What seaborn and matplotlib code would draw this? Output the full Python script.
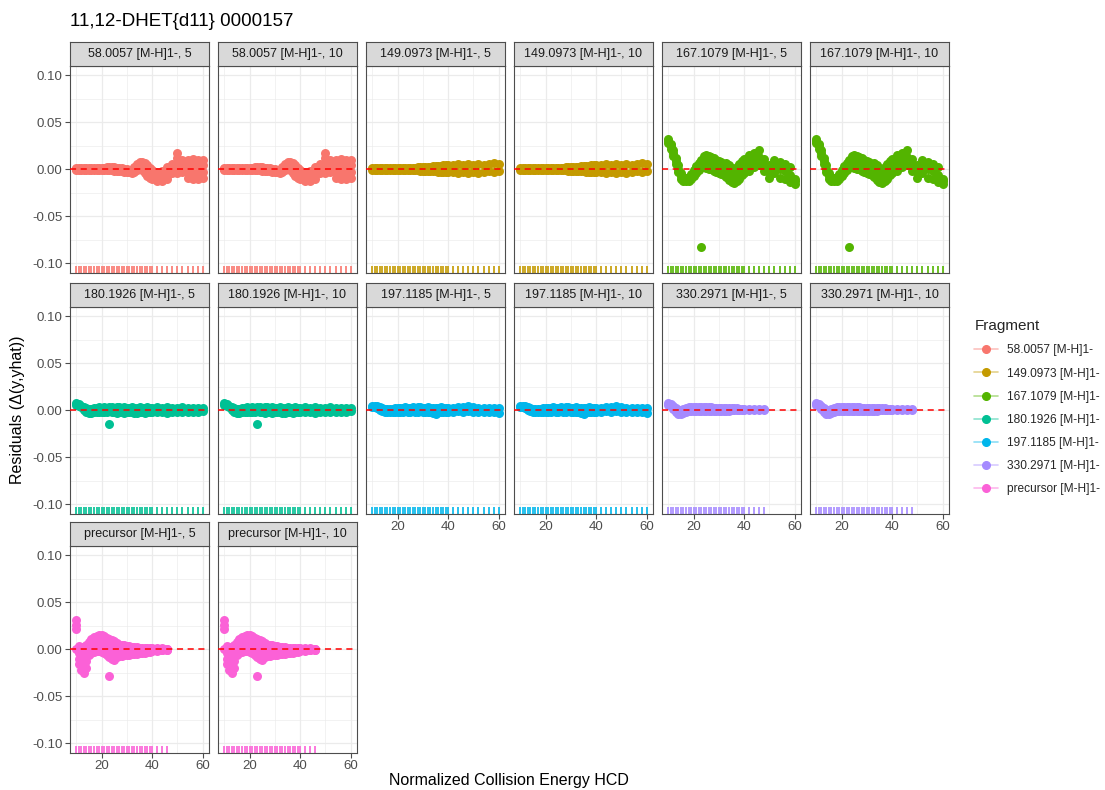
import numpy as np
import pandas as pd
import matplotlib
matplotlib.use("Agg")
import matplotlib.pyplot as plt
import seaborn as sns
from matplotlib.lines import Line2D
from matplotlib.ticker import FixedLocator
from matplotlib.colors import to_rgba

# ---------------- data ----------------
TITLE = "11,12-DHET{d11} 0000157"
X_LABEL = "Normalized Collision Energy HCD"
Y_LABEL = "Residuals (\u0394(y,yhat))"
LEGEND_TITLE = "Fragment"

FRAGMENTS = ["58.0057 [M-H]1-", "149.0973 [M-H]1-", "167.1079 [M-H]1-",
             "180.1926 [M-H]1-", "197.1185 [M-H]1-", "330.2971 [M-H]1-",
             "precursor [M-H]1-"]
COLORS = ["#F8766D", "#C49A00", "#53B400", "#00C094", "#00B6EB", "#A58AFF", "#FB61D7"]
SETTINGS = ["5", "10"]

X_TICKS = [20, 40, 60]
X_TICK_LABELS = ["20", "40", "60"]
Y_TICKS = [0.10, 0.05, 0.00, -0.05, -0.10]
Y_TICK_LABELS = ["0.10", "0.05", "0.00", "-0.05", "-0.10"]

ENERGY_FULL = [10, 11, 12, 13, 14, 15, 16, 17, 18, 19, 20,
               21, 22, 23, 24, 25, 26, 27, 28, 29, 30,
               31, 32, 33, 34, 35, 36, 37, 38, 39, 40,
               42, 44, 46, 48, 50, 52, 54, 56, 58, 60]
ENERGY_330 = [10, 11, 12, 13, 14, 15, 16, 17, 18, 19, 20,
              21, 22, 23, 24, 25, 26, 27, 28, 29, 30,
              31, 32, 33, 34, 35, 36, 37, 38, 39, 40,
              42, 44, 46, 48]
ENERGY_PREC = [10, 11, 12, 13, 14, 15, 16, 17, 18, 19, 20,
               21, 22, 23, 24, 25, 26, 27, 28, 29, 30,
               31, 32, 33, 34, 35, 36, 37, 38, 39, 40,
               42, 44, 46]

RES_58_A = [0.001, 0.001, 0.001, 0.001, 0.001, 0.001, 0.001, 0.001, 0.001, 0.001, 0.001,
            0.001, 0.002, 0.002, 0.002, 0.002, 0.001, 0.001, 0.001, 0.000, 0.000,
            -0.001, -0.001, 0.002, 0.006, 0.008, 0.008, 0.007, 0.004, 0.001, -0.001,
            -0.003, -0.002, 0.002, 0.006, 0.017, 0.010, 0.010, 0.011, 0.010, 0.010]
RES_58_B = [-0.001, -0.001, -0.001, -0.001, -0.001, -0.001, -0.001, -0.001, -0.001, -0.001, -0.001,
            -0.001, -0.001, -0.001, -0.001, -0.002, -0.002, -0.002, -0.002, -0.003, -0.003,
            -0.003, -0.004, -0.003, -0.001, 0.000, -0.001, -0.004, -0.007, -0.009, -0.010,
            -0.012, -0.013, -0.010, -0.004, -0.004, -0.003, -0.009, -0.010, -0.010, -0.009]
RES_58_C = [0.000, 0.000, 0.000, 0.000, 0.000, 0.000, 0.000, 0.000, 0.000, 0.000, 0.000,
            0.000, 0.000, 0.000, 0.001, 0.000, 0.000, -0.001, -0.001, -0.001, -0.002,
            -0.002, -0.002, 0.000, 0.003, 0.004, 0.004, 0.002, -0.001, -0.004, -0.005,
            -0.007, -0.008, -0.004, 0.001, 0.012, 0.006, 0.004, 0.005, 0.005, 0.004]
RES_58_D = [0.000, 0.000, 0.000, 0.000, 0.000, 0.000, 0.000, 0.000, 0.000, 0.000, 0.000,
            0.000, 0.000, 0.000, 0.000, 0.000, 0.000, 0.000, 0.000, -0.001, -0.001,
            -0.001, -0.001, 0.001, 0.002, 0.003, 0.003, 0.000, -0.003, -0.006, -0.007,
            -0.010, -0.011, -0.007, -0.002, 0.004, 0.002, -0.003, -0.004, -0.003, -0.003]

RES_149_A = [0.001, 0.001, 0.001, 0.001, 0.001, 0.001, 0.001, 0.001, 0.001, 0.001, 0.001,
             0.001, 0.001, 0.001, 0.001, 0.001, 0.001, 0.001, 0.002, 0.002, 0.002,
             0.002, 0.002, 0.002, 0.003, 0.003, 0.003, 0.003, 0.004, 0.004, 0.004,
             0.005, 0.006, 0.005, 0.006, 0.005, 0.006, 0.005, 0.006, 0.007, 0.006]
RES_149_B = [-0.001, -0.001, -0.001, -0.001, -0.001, -0.001, -0.001, -0.001, -0.001, -0.001, -0.001,
             -0.001, -0.001, -0.001, -0.001, -0.001, -0.001, -0.001, -0.001, -0.002, -0.002,
             -0.002, -0.002, -0.002, -0.002, -0.002, -0.003, -0.003, -0.003, -0.003, -0.003,
             -0.003, -0.004, -0.003, -0.004, -0.003, -0.004, -0.003, -0.002, -0.003, -0.002]

RES_167_A = [0.032, 0.027, 0.020, 0.012, 0.004, -0.004, -0.008, -0.009, -0.008, -0.005, -0.001,
             0.003, 0.007, 0.010, 0.014, 0.015, 0.014, 0.013, 0.012, 0.010, 0.009,
             0.008, 0.006, 0.007, 0.005, 0.001, 0.000, 0.002, 0.006, 0.009, 0.011,
             0.015, 0.017, 0.021, 0.011, 0.004, 0.010, 0.008, 0.006, 0.002, -0.010]
RES_167_B = [0.030, 0.025, 0.017, 0.009, 0.000, -0.007, -0.011, -0.011, -0.010, -0.008, -0.004,
             0.000, 0.003, 0.005, 0.008, 0.008, 0.007, 0.006, 0.005, 0.004, 0.002,
             0.001, 0.000, -0.001, -0.003, -0.007, -0.008, -0.006, -0.002, 0.002, 0.004,
             0.007, 0.010, 0.013, 0.005, -0.003, 0.003, 0.000, -0.002, -0.006, -0.013]
RES_167_C = [0.028, 0.022, 0.014, 0.006, -0.003, -0.010, -0.013, -0.013, -0.012, -0.010, -0.007,
             -0.004, -0.001, -0.083, 0.002, 0.001, 0.000, 0.000, -0.002, -0.003, -0.004,
             -0.005, -0.006, -0.008, -0.011, -0.014, -0.015, -0.013, -0.010, -0.006, -0.004,
             -0.002, 0.002, 0.005, -0.002, -0.009, -0.004, -0.009, -0.010, -0.014, -0.016]

RES_180_A = [0.008, 0.007, 0.005, 0.003, 0.002, 0.001, 0.001, 0.002, 0.002, 0.003, 0.002,
             0.003, 0.002, 0.003, 0.003, 0.002, 0.003, 0.003, 0.002, 0.003, 0.002,
             0.002, 0.003, 0.002, 0.002, 0.003, 0.002, 0.002, 0.003, 0.002, 0.002,
             0.003, 0.002, 0.003, 0.002, 0.002, 0.003, 0.002, 0.002, 0.002, 0.002]
RES_180_B = [0.006, 0.005, 0.003, 0.000, -0.002, -0.003, -0.003, -0.002, -0.002, -0.002, -0.002,
             -0.002, -0.002, -0.015, -0.002, -0.002, -0.003, -0.002, -0.002, -0.003, -0.002,
             -0.002, -0.002, -0.003, -0.003, -0.002, -0.002, -0.003, -0.002, -0.002, -0.002,
             -0.002, -0.002, -0.003, -0.002, -0.002, -0.002, -0.002, -0.002, -0.002, -0.001]

RES_197_A = [0.005, 0.005, 0.004, 0.003, 0.002, 0.001, 0.001, 0.001, 0.001, 0.002, 0.002,
             0.002, 0.002, 0.003, 0.002, 0.002, 0.003, 0.002, 0.003, 0.003, 0.002,
             0.002, 0.003, 0.002, 0.002, 0.002, 0.002, 0.003, 0.002, 0.002, 0.002,
             0.002, 0.003, 0.003, 0.004, 0.003, 0.002, 0.002, 0.002, 0.002, 0.002]
RES_197_B = [0.003, 0.003, 0.002, 0.000, -0.001, -0.002, -0.002, -0.002, -0.002, -0.002, -0.002,
             -0.002, -0.002, -0.001, -0.002, -0.002, -0.001, -0.002, -0.002, -0.001, -0.002,
             -0.002, -0.002, -0.002, -0.003, -0.004, -0.002, -0.002, -0.002, -0.002, -0.002,
             -0.002, -0.001, -0.002, -0.001, -0.002, -0.002, -0.002, -0.002, -0.002, -0.003]

RES_330_A = [0.008, 0.007, 0.005, 0.002, 0.000, 0.000, 0.001, 0.002, 0.003, 0.003, 0.003,
             0.003, 0.003, 0.003, 0.003, 0.003, 0.003, 0.003, 0.002, 0.002, 0.002,
             0.002, 0.002, 0.002, 0.002, 0.002, 0.002, 0.002, 0.001, 0.001, 0.001,
             0.001, 0.001, 0.001, 0.001]
RES_330_B = [0.006, 0.004, 0.001, -0.002, -0.004, -0.004, -0.003, -0.002, -0.001, -0.001, -0.001,
             -0.001, -0.001, -0.001, -0.001, -0.001, -0.001, -0.001, -0.001, -0.001, -0.001,
             -0.001, -0.001, -0.001, -0.001, 0.000, 0.000, 0.000, 0.000, 0.000, 0.000,
             0.000, 0.000, 0.000, 0.000]

RES_PREC_A = [0.031, 0.003, 0.002, 0.000, 0.004, 0.008, 0.011, 0.013, 0.014, 0.015, 0.015,
              0.014, 0.012, 0.011, 0.010, 0.009, 0.007, 0.005, 0.004, 0.004, 0.003,
              0.003, 0.002, 0.002, 0.002, 0.001, 0.001, 0.001, 0.001, 0.001, 0.001,
              0.001, 0.001, 0.000]
RES_PREC_B = [0.026, -0.004, -0.007, -0.008, -0.004, 0.002, 0.005, 0.007, 0.008, 0.008, 0.008,
              0.007, 0.005, 0.004, 0.003, 0.002, 0.001, 0.000, 0.000, 0.000, -0.001,
              -0.001, -0.001, -0.001, -0.001, -0.001, -0.001, 0.000, 0.000, 0.000, 0.000,
              0.000, 0.000, 0.000]
RES_PREC_C = [0.022, -0.010, -0.015, -0.016, -0.012, -0.003, -0.001, 0.001, 0.002, 0.002, 0.001,
              0.000, -0.002, -0.029, -0.004, -0.005, -0.005, -0.005, -0.005, -0.005, -0.005,
              -0.004, -0.004, -0.004, -0.003, -0.003, -0.003, -0.002, -0.002, -0.002, -0.001,
              -0.001, -0.001, -0.001]
RES_PREC_D = [0.000, -0.016, -0.022, -0.025, -0.020, -0.006, -0.004, -0.003, -0.002, -0.002, -0.003,
              -0.004, -0.006, -0.008, -0.010, -0.011, -0.008, -0.007, -0.007, -0.006, -0.006,
              -0.006, -0.005, -0.005, -0.005, -0.004, -0.004, -0.004, -0.003, -0.003, -0.002,
              -0.002, -0.001, -0.001]

FRAGMENT_DATA = {
    FRAGMENTS[0]: (ENERGY_FULL, [RES_58_A, RES_58_B, RES_58_C, RES_58_D]),
    FRAGMENTS[1]: (ENERGY_FULL, [RES_149_A, RES_149_B]),
    FRAGMENTS[2]: (ENERGY_FULL, [RES_167_A, RES_167_B, RES_167_C]),
    FRAGMENTS[3]: (ENERGY_FULL, [RES_180_A, RES_180_B]),
    FRAGMENTS[4]: (ENERGY_FULL, [RES_197_A, RES_197_B]),
    FRAGMENTS[5]: (ENERGY_330, [RES_330_A, RES_330_B]),
    FRAGMENTS[6]: (ENERGY_PREC, [RES_PREC_A, RES_PREC_B, RES_PREC_C, RES_PREC_D]),
}

rows = []
for frag, (energy, layers) in FRAGMENT_DATA.items():
    for setting in SETTINGS:
        for layer in layers:
            for e, r in zip(energy, layer):
                rows.append({"fragment": frag, "setting": setting, "energy": e, "residual": r})
df = pd.DataFrame(rows)

# ---------------- style ----------------
sns.set_theme(style="white")
plt.rcParams["font.family"] = ["Liberation Sans", "DejaVu Sans"]
plt.rcParams["axes.unicode_minus"] = False

W, H = 1105, 790
fig = plt.figure(figsize=(W / 100, H / 100), dpi=100)
fig.patch.set_facecolor("white")


def rect(left, top, width, height):
    return [left / W, 1 - (top + height) / H, width / W, height / H]


COL_LEFT = [70, 218, 366, 514, 662, 810]
ROW_TOP = [66, 307, 546]
PANEL_W = 139
PANEL_H = 206.5
STRIP_H = 24
GRID = "#EBEBEB"
DARK = "#4D4D4D"

panels = [(f, s) for f in FRAGMENTS for s in SETTINGS]
for i, (frag, setting) in enumerate(panels):
    r, c = divmod(i, 6)
    left, top = COL_LEFT[c], ROW_TOP[r]
    color = COLORS[FRAGMENTS.index(frag)]
    ax = fig.add_axes(rect(left, top, PANEL_W, PANEL_H))
    ax.set_facecolor("white")
    sub = df[(df.fragment == frag) & (df.setting == setting)]
    ax.axhline(0, color="red", lw=1.1, ls=(0, (4, 3)), zorder=4)
    sns.scatterplot(data=sub, x="energy", y="residual", color=color, s=42,
                    linewidth=0, ax=ax, legend=False, zorder=3)
    energies = FRAGMENT_DATA[frag][0]
    sns.rugplot(x=energies, height=0.03, color=color, linewidth=1.2, ax=ax, zorder=2)
    ax.set_xlim(7.5, 62.5)
    ax.set_ylim(-0.11, 0.11)
    ax.set_xticks(X_TICKS)
    ax.set_xticklabels(X_TICK_LABELS)
    ax.set_yticks(Y_TICKS)
    ax.set_yticklabels(Y_TICK_LABELS)
    ax.xaxis.set_minor_locator(FixedLocator([10, 30, 50]))
    ax.yaxis.set_minor_locator(FixedLocator([-0.075, -0.025, 0.025, 0.075]))
    ax.grid(which="major", color=GRID, lw=0.9)
    ax.grid(which="minor", color=GRID, lw=0.45)
    ax.set_axisbelow(True)
    ax.set_xlabel("")
    ax.set_ylabel("")
    for sp in ax.spines.values():
        sp.set_color(DARK)
        sp.set_linewidth(0.8)
    ax.tick_params(which="minor", length=0)
    ax.tick_params(which="major", length=3.5, width=0.8, color=DARK,
                   labelsize=9.5, labelcolor="#4D4D4D", pad=2)
    show_bottom = (r == 2) or (r == 1 and c >= 2)
    show_left = (c == 0)
    ax.tick_params(axis="x", bottom=show_bottom, labelbottom=show_bottom)
    ax.tick_params(axis="y", left=show_left, labelleft=show_left)

    sax = fig.add_axes(rect(left, top - STRIP_H, PANEL_W, STRIP_H))
    sax.set_facecolor("#D9D9D9")
    sax.set_xticks([])
    sax.set_yticks([])
    for sp in sax.spines.values():
        sp.set_color(DARK)
        sp.set_linewidth(0.8)
    sax.text(0.5, 0.5, f"{frag}, {setting}", ha="center", va="center",
             fontsize=9, color="#1A1A1A", transform=sax.transAxes)

fig.text(70 / W, 1 - 22 / H, TITLE, ha="left", va="center", fontsize=13.5, color="black")
fig.text(509 / W, 1 - 781 / H, X_LABEL, ha="center", va="center", fontsize=11.5, color="black")
fig.text(18 / W, 1 - 410 / H, Y_LABEL, ha="center", va="center", rotation=90,
         fontsize=11.5, color="black")

handles = [Line2D([], [], color=to_rgba(c, 0.45), lw=1.2, marker="o", markersize=5.5,
                  markerfacecolor=c, markeredgecolor=c)
           for c in COLORS]
leg = fig.legend(handles, FRAGMENTS, loc="upper left",
                 bbox_to_anchor=(966 / W, 1 - 311 / H), frameon=False,
                 title=LEGEND_TITLE, fontsize=8.6, title_fontsize=11,
                 handlelength=2.0, handletextpad=0.7, labelspacing=0.93,
                 alignment="left", borderaxespad=0.3)

fig.savefig("out.png", dpi=100, facecolor="white")
